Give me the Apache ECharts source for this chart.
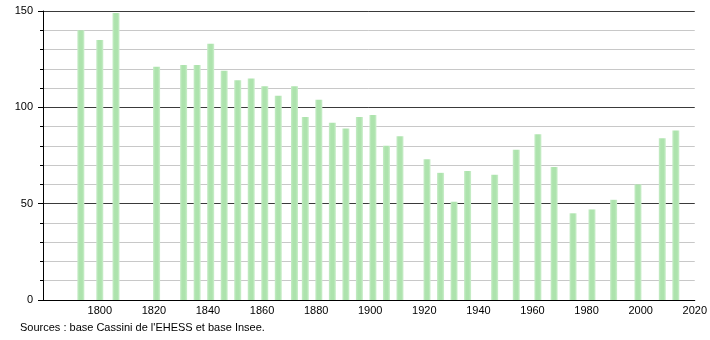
<!DOCTYPE html>
<html>
<head>
<meta charset="utf-8">
<script src="https://cdn.jsdelivr.net/npm/echarts@6/dist/echarts.min.js"></script>
<style>
  html, body { margin: 0; padding: 0; background: #fff; }
  #chart { width: 710px; height: 340px; }
</style>
</head>
<body>
<div id="chart"></div>
<script>
// census years and population
var years = [1793, 1800, 1806, 1821, 1831, 1836, 1841, 1846, 1851, 1856, 1861, 1866, 1872, 1876,
    1881, 1886, 1891, 1896, 1901, 1906, 1911, 1921, 1926, 1931, 1936, 1946, 1954, 1962,
    1968, 1975, 1982, 1990, 1999, 2008, 2013];
var population = [140, 135, 149, 121, 122, 122, 133, 119, 114, 115, 111, 106, 111, 95,
    104, 92, 89, 95, 96, 80, 85, 73, 66, 51, 67, 65, 78, 86,
    69, 45, 47, 52, 60, 84, 88];
var xTicks = [1800, 1820, 1840, 1860, 1880, 1900, 1920, 1940, 1960, 1980, 2000, 2020];
var sourceText = "Sources : base Cassini de l'EHESS et base Insee.";

var myChart = echarts.init(document.getElementById('chart'));
var font = 'Liberation Sans, Arial, sans-serif';

var points = [];
for (var i = 0; i < years.length; i++) {
    points.push([years[i], population[i]]);
}

var option = {
    animation: false,
    grid: {
        left: 43,
        right: 15,
        top: 11,
        bottom: 40
    },
    graphic: [{
        type: 'text',
        left: 20,
        top: 322,
        style: {
            text: sourceText,
            font: '11px ' + font,
            fill: '#000'
        }
    }],
    xAxis: {
        type: 'value',
        min: 1779,
        max: 2020,
        axisLine: { show: true, lineStyle: { color: '#000', width: 1 } },
        axisTick: { show: false },
        splitLine: { show: false },
        axisLabel: {
            customValues: xTicks,
            color: '#000',
            fontFamily: font,
            fontSize: 11,
            margin: 5,
            formatter: function (v) { return String(v); }
        }
    },
    yAxis: {
        type: 'value',
        min: 0,
        max: 150,
        interval: 50,
        axisLine: { show: true, lineStyle: { color: '#000', width: 1 } },
        axisTick: { show: true, length: 5, lineStyle: { color: '#000' } },
        minorTick: { show: true, splitNumber: 5, length: 3, lineStyle: { color: '#000' } },
        splitLine: { show: true, lineStyle: { color: '#3a3a3a', width: 1 } },
        minorSplitLine: { show: true, lineStyle: { color: '#c8c8c8', width: 1 } },
        axisLabel: {
            color: '#000',
            fontFamily: font,
            fontSize: 11,
            margin: 10
        }
    },
    series: [{
        type: 'bar',
        barWidth: 7,
        data: points,
        itemStyle: {
            color: new echarts.graphic.LinearGradient(0, 0, 1, 0, [
                { offset: 0, color: '#c6ecc6' },
                { offset: 0.3, color: '#ade3ad' },
                { offset: 0.7, color: '#ade3ad' },
                { offset: 1, color: '#cdefcd' }
            ])
        }
    }]
};

myChart.setOption(option);
</script>
</body>
</html>
